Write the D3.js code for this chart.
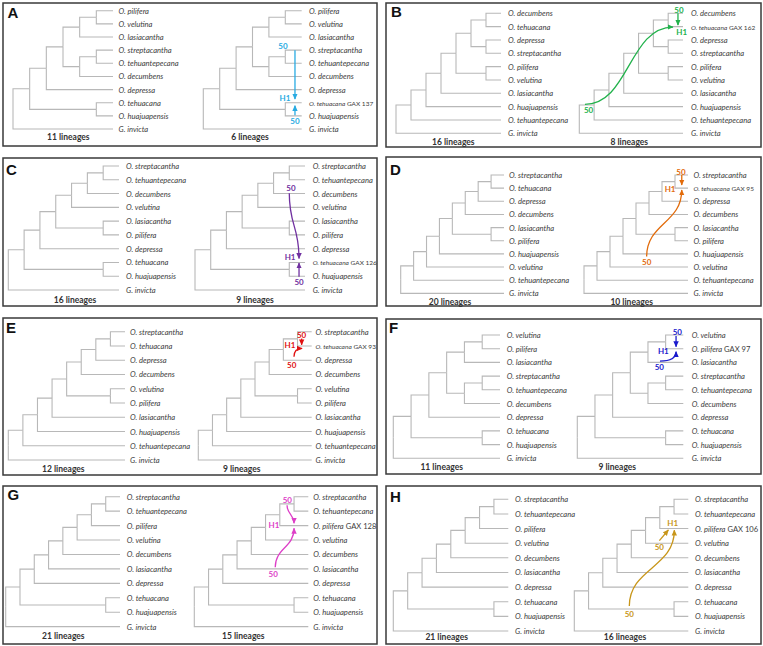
<!DOCTYPE html>
<html><head><meta charset="utf-8">
<script src="https://cdn.jsdelivr.net/npm/d3@7"></script>
<style>html,body{margin:0;padding:0;background:#fff;} svg{display:block}</style>
</head><body>
<svg id="chart" width="763" height="646"></svg>
<script>
// ---------- DATA ----------
const panelLetters = ["A","B","C","D","E","F","G","H"];

const treeA = [[[[[["O. pilifera","O. velutina"],"O. lasiacantha"],[["O. streptacantha","O. tehuantepecana"],"O. decumbens"]],"O. depressa"],["O. tehuacana","O. huajuapensis"]],"G. invicta"];
const treeB = [[[[[[["O. decumbens","O. tehuacana"],["O. depressa","O. streptacantha"]],["O. pilifera","O. velutina"]],"O. lasiacantha"],"O. huajuapensis"],"O. tehuantepecana"],"G. invicta"];
const treeC = [[[[[[["O. streptacantha","O. tehuantepecana"],"O. decumbens"],"O. velutina"],["O. lasiacantha","O. pilifera"]],"O. depressa"],["O. tehuacana","O. huajuapensis"]],"G. invicta"];
const treeD = [[[[[[[["O. streptacantha","O. tehuacana"],"O. depressa"],"O. decumbens"],["O. lasiacantha","O. pilifera"]],"O. huajuapensis"],"O. velutina"],"O. tehuantepecana"],"G. invicta"];
const treeE = [[[[[[[["O. streptacantha","O. tehuacana"],"O. depressa"],"O. decumbens"],["O. velutina","O. pilifera"]],"O. lasiacantha"],"O. huajuapensis"],"O. tehuantepecana"],"G. invicta"];
const treeF = [[[[[["O. velutina","O. pilifera"],"O. lasiacantha"],[["O. streptacantha","O. tehuantepecana"],"O. decumbens"]],"O. depressa"],["O. tehuacana","O. huajuapensis"]],"G. invicta"];
const treeG = [[[[[[[["O. streptacantha","O. tehuantepecana"],"O. pilifera"],"O. velutina"],"O. decumbens"],"O. lasiacantha"],"O. depressa"],["O. tehuacana","O. huajuapensis"]],"G. invicta"];
const treeH = [[[[[[[["O. streptacantha","O. tehuantepecana"],"O. pilifera"],"O. velutina"],"O. decumbens"],"O. lasiacantha"],"O. depressa"],["O. tehuacana","O. huajuapensis"]],"G. invicta"];
const trees = [treeA, treeB, treeC, treeD, treeE, treeF, treeG, treeH];

const hybridLeaf = ["O. tehuacana","O. tehuacana","O. tehuacana","O. tehuacana","O. tehuacana","O. pilifera","O. pilifera","O. pilifera"];
const hybridTag  = ["GAX 137","GAX 162","GAX 126","GAX 95","GAX 93","GAX 97","GAX 128","GAX 106"];
const hybridSmall = [true,true,true,true,true,false,false,false];
const lineagesLeft  = [11,16,16,20,12,11,21,21];
const lineagesRight = [6,8,9,10,9,9,15,16];

// hybrid annotation, in tree units: [height level from tips, leaf row]
const hybridArrows = [
 {paths:[{type:"line",from:[0.41,3.0],to:[0.41,6.72]},{type:"line",from:[0.41,7.95],to:[0.41,7.22]}],
  labels:[{text:"50",at:[1.14,2.69]},{text:"50",at:[0.41,8.4]},{text:"H1",at:[1.02,6.64]}]},
 {paths:[{type:"h",from:[6.62,6.83],to:[0.68,1.03]},{type:"line",from:[0.34,0.0],to:[0.34,0.88]}],
  labels:[{text:"50",at:[0.27,-0.27]},{text:"50",at:[6.37,7.25]},{text:"H1",at:[0.09,1.38]}]},
 {paths:[{type:"v",from:[1.0,1.98],to:[0.38,6.71]},{type:"line",from:[0.38,8.03],to:[0.38,7.04]}],
  labels:[{text:"50",at:[0.89,1.62]},{text:"50",at:[0.38,8.42]},{text:"H1",at:[0.95,6.63]}]},
 {paths:[{type:"line",from:[0.48,0.0],to:[0.48,0.76]},{type:"v",from:[3.18,6.2],to:[0.48,1.14]}],
  labels:[{text:"50",at:[0.54,-0.25]},{text:"50",at:[3.18,6.64]},{text:"H1",at:[1.38,1.07]}]},
 {paths:[{type:"line",from:[0.71,0.48],to:[0.71,0.92]},{type:"vh",from:[1.25,1.76],to:[0.68,1.17]}],
  labels:[{text:"50",at:[0.71,0.2]},{text:"50",at:[1.41,2.34]},{text:"H1",at:[1.53,0.93]}]},
 {paths:[{type:"line",from:[0.41,0.07],to:[0.41,0.85]},{type:"hv",from:[1.32,1.9],to:[0.41,1.22]}],
  labels:[{text:"50",at:[0.34,-0.24]},{text:"50",at:[1.36,2.36]},{text:"H1",at:[1.13,1.15]}]},
 {paths:[{type:"v",from:[1.49,0.6],to:[1.0,1.84]},{type:"v",from:[2.32,4.89],to:[1.0,2.19]}],
  labels:[{text:"50",at:[1.47,0.2]},{text:"50",at:[2.46,5.38]},{text:"H1",at:[2.41,1.96]}]},
 {paths:[{type:"line",from:[2.03,2.82],to:[1.40,2.10]},{type:"v",from:[4.14,7.3],to:[0.98,2.11]}],
  labels:[{text:"50",at:[2.03,3.24]},{text:"50",at:[4.14,7.84]},{text:"H1",at:[1.10,1.64]}]}
];

// ---------- LAYOUT / STYLE ----------
const hybridColors = ["#29abe2","#22b24c","#7030a0","#e26b0a","#e01010","#1a1acc","#dd3fc7","#c8961a"];
const panelGeo = [
 {box:[3,3,377,146], letter:[7.5,17.5], y0:10.7, dy:13.15, L:{root:13,leaf:113,label:118.5}, R:{root:203.3,leaf:301.7,label:309}, countY:137.3, countX:[68.3,250]},
 {box:[386,3,761,147], letter:[391,17], y0:13.3, dy:13.33, L:{root:396,leaf:501,label:508}, R:{root:579.3,leaf:683,label:691}, countY:141.7, countX:[453.3,629.3]},
 {box:[3,158,377,306], letter:[6,174.5], y0:166, dy:13.78, L:{root:8.3,leaf:119,label:126}, R:{root:195,leaf:305,label:312.7}, countY:300, countX:[75,255]},
 {box:[386,157,761,306], letter:[390,175], y0:175, dy:13.15, L:{root:400.7,leaf:504,label:509}, R:{root:584,leaf:688,label:693.5}, countY:301.7, countX:[450,631.7]},
 {box:[3,318,377,475], letter:[6,332.5], y0:331.7, dy:14.26, L:{root:8.3,leaf:125,label:130}, R:{root:198.3,leaf:311.7,label:315.5}, countY:469.3, countX:[63.3,241.7]},
 {box:[386,319,761,474], letter:[389,332.5], y0:335, dy:13.7, L:{root:393.3,leaf:500,label:506.7}, R:{root:577.3,leaf:683.3,label:691.7}, countY:466.7, countX:[441.7,617.3]},
 {box:[3,486,377,644], letter:[7.5,500], y0:496.7, dy:14.44, L:{root:5.7,leaf:120,label:126.7}, R:{root:194.3,leaf:308.3,label:313.3}, countY:636, countX:[63.3,243.3]},
 {box:[386,486,761,644], letter:[390,501.5], y0:499.3, dy:14.63, L:{root:393.3,leaf:508.3,label:515}, R:{root:574.3,leaf:688.3,label:695}, countY:636.7, countX:[446.7,625]}
];
const FONT = "Lato, 'Open Sans', sans-serif";
const leafFont = 7.6, smallFont = 6.5;

const svg = d3.select("#chart");
svg.append("rect").attr("width",763).attr("height",646).attr("fill","#fff");
const defs = svg.append("defs");
hybridColors.forEach((c,i)=>{
  defs.append("marker").attr("id","ah"+i).attr("viewBox","0 0 10 10")
    .attr("refX",9).attr("refY",5).attr("markerUnits","userSpaceOnUse")
    .attr("markerWidth",6).attr("markerHeight",6).attr("orient","auto")
    .append("path").attr("d","M0,0.5L10,5L0,9.5z").attr("fill",c);
});

const toNode = a => Array.isArray(a) ? {children: a.map(toNode)} : {name: a};

function drawTree(g, treeArr, geo, y0, dy, hyb) {
  const root = d3.hierarchy(toNode(treeArr));
  const x = d3.scaleLinear().domain([root.height, 0]).range([geo.root, geo.leaf]);
  const y = d3.scaleLinear().domain([0, 1]).range([y0, y0 + dy]);
  root.leaves().forEach((l,i)=> l.row = i);
  root.eachAfter(n => { if (n.children) n.row = (n.children[0].row + n.children[n.children.length-1].row)/2; });
  const links = root.links();
  g.selectAll(null).data(links).enter().append("path")
    .attr("d", l => `M${x(l.source.height)},${y(l.source.row)}V${y(l.target.row)}H${x(l.target.height)}`)
    .attr("fill","none").attr("stroke","#b8b8b8").attr("stroke-width",1.1);
  const labels = g.selectAll(null).data(root.leaves()).enter().append("text")
    .attr("x", geo.label).attr("y", d => y(d.row))
    .attr("dominant-baseline","central")
    .attr("font-family", FONT).attr("fill","#3c3c3c")
    .attr("font-size", d => (hyb && d.data.name === hyb.leaf && hyb.small) ? smallFont : leafFont);
  labels.each(function(d){
    const t = d3.select(this);
    t.append("tspan").attr("font-style","italic").text(d.data.name);
    if (hyb && d.data.name === hyb.leaf) t.append("tspan").text(" " + hyb.tag);
  });
  return {x, y};
}

panelGeo.forEach((p,i)=>{
  const g = svg.append("g");
  g.append("rect").attr("x",p.box[0]).attr("y",p.box[1])
    .attr("width",p.box[2]-p.box[0]).attr("height",p.box[3]-p.box[1])
    .attr("fill","none").attr("stroke","#3a3a3a").attr("stroke-width",1.5);
  g.append("text").attr("x",p.letter[0]).attr("y",p.letter[1])
    .attr("font-family","'Liberation Sans', Arial, sans-serif").attr("font-weight","bold")
    .attr("font-size",15).attr("fill","#111").text(panelLetters[i]);

  drawTree(g, trees[i], p.L, p.y0, p.dy, null);
  const s = drawTree(g, trees[i], p.R, p.y0, p.dy, {leaf:hybridLeaf[i], tag:hybridTag[i], small:hybridSmall[i]});

  [lineagesLeft[i] + " lineages", lineagesRight[i] + " lineages"].forEach((t,k)=>{
    g.append("text").attr("x",p.countX[k]).attr("y",p.countY)
      .attr("text-anchor","middle").attr("dominant-baseline","central")
      .attr("font-family",FONT).attr("font-weight","bold").attr("font-size",8.5)
      .attr("fill","#333").text(t);
  });

  const col = hybridColors[i];
  const P = a => [s.x(a[0]), s.y(a[1])];
  hybridArrows[i].paths.forEach(pa=>{
    const a = P(pa.from), b = P(pa.to);
    let d;
    if (pa.type === "line") d = `M${a[0]},${a[1]}L${b[0]},${b[1]}`;
    else if (pa.type === "v") d = d3.linkVertical()({source:a, target:b});
    else if (pa.type === "h") d = d3.linkHorizontal()({source:a, target:b});
    else if (pa.type === "hv") d = `M${a[0]},${a[1]}Q${b[0]},${a[1]} ${b[0]},${b[1]}`;
    else d = `M${a[0]},${a[1]}Q${a[0]},${b[1]} ${b[0]},${b[1]}`;
    g.append("path").attr("d", d).attr("fill","none").attr("stroke",col)
      .attr("stroke-width",1.3).attr("marker-end","url(#ah"+i+")");
  });
  hybridArrows[i].labels.forEach(lb=>{
    const a = P(lb.at);
    g.append("text").attr("x",a[0]).attr("y",a[1]).attr("text-anchor","middle")
      .attr("dominant-baseline","central").attr("font-family",FONT)
      .attr("font-weight","bold").attr("font-size",8).attr("fill",col).text(lb.text);
  });
});
</script>
</body></html>
